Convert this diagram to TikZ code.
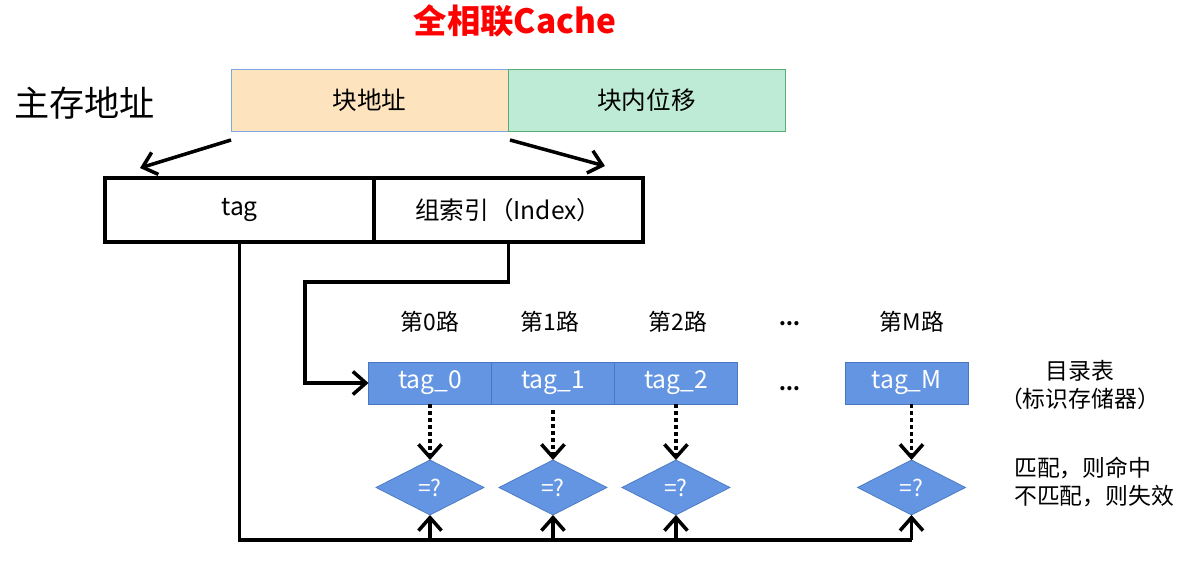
\documentclass[tikz,border=0pt]{standalone}
\usepackage{fontspec}
\setmainfont{Noto Sans CJK SC}
\usepackage{xcolor}
\usetikzlibrary{shapes,arrows,positioning,calc,arrows.meta}
\definecolor{blkfill}{HTML}{FDE3BE}
\definecolor{blkline}{HTML}{7EA6E0}
\definecolor{offfill}{HTML}{BDEBD5}
\definecolor{offline}{HTML}{5AAA78}
\definecolor{tagfill}{HTML}{6495E2}
\definecolor{tagline}{HTML}{4A78C0}
\tikzset{
    addr/.style={draw, minimum width=5.54cm, minimum height=1.24cm, outer sep=0pt, font=\fontsize{14}{16}\selectfont},
    field/.style={draw, line width=2.2pt, minimum width=5.38cm, minimum height=1.28cm, outer sep=0pt, font=\fontsize{14}{16}\selectfont},
    tagbox/.style={draw=tagline, fill=tagfill, text=white, minimum width=2.46cm, minimum height=0.84cm, outer sep=0pt, font=\fontsize{14}{16}\selectfont},
    cmp/.style={diamond, draw=tagline, fill=tagfill, text=white, minimum width=2.16cm, minimum height=1.1cm, inner sep=0pt, outer sep=0pt, font=\fontsize{13}{15}\selectfont},
    arr/.style={-{Straight Barb[length=2.6mm,width=4.6mm]}, line width=2pt},
    dotarr/.style={arr, dash pattern=on 2.2pt off 1.8pt},
    lbl/.style={font=\fontsize{13}{16}\selectfont}
}
\begin{document}
\begin{tikzpicture}[x=0.02cm, y=-0.02cm]
    \useasboundingbox (0,0) rectangle (1197,567);

    % Title
    \node[text=red, font=\fontsize{19}{22}\selectfont\bfseries] (title) at (515,21) {全相联Cache};

    % Main memory address
    \node[anchor=west, font=\fontsize{20}{24}\selectfont] (mem) at (8,103) {主存地址};
    \node[addr, draw=blkline, fill=blkfill] (blk) at (369.5,100) {块地址};
    \node[addr, draw=offline, fill=offfill, right=0pt of blk] (off) {块内位移};

    % Tag / index fields
    \node[field] (tagf) at (239.5,210) {tag};
    \node[field, right=0pt of tagf] (idxf) {组索引（Index）};

    \draw[arr] ($(blk.south west)+(0,9)$) -- ($(tagf.north west)+(35,-10)$);
    \draw[arr] ($(off.south west)+(2,9)$) -- ($(idxf.north west)+(231,-12)$);

    % Ways
    \node[lbl] (w0) at (430,322) {第0路};
    \node[lbl] (w1) at (550,322) {第1路};
    \node[lbl] (w2) at (678,322) {第2路};
    \node[font=\fontsize{11}{14}\selectfont\bfseries] (wd) at (790,324) {...};
    \node[lbl] (wM) at (912,322) {第M路};

    % Directory entries
    \node[tagbox] (t0) at (430,383) {tag\_0};
    \node[tagbox, right=0pt of t0] (t1) {tag\_1};
    \node[tagbox, right=0pt of t1] (t2) {tag\_2};
    \node[font=\fontsize{11}{14}\selectfont\bfseries] (td) at (790,389) {...};
    \node[tagbox] (tM) at (906.5,383) {tag\_M};

    % Comparators
    \node[cmp, below=1.12cm of t0] (d0) {=?};
    \node[cmp, below=1.12cm of t1] (d1) {=?};
    \node[cmp, below=1.12cm of t2] (d2) {=?};
    \node[cmp, below=1.12cm of tM, xshift=0.1cm] (dM) {=?};

    \draw[dotarr] (t0.south) -- (d0.north);
    \draw[dotarr] ($(t1.south)+(0,6)$) -- (d1.north);
    \draw[dotarr] (t2.south) -- (d2.north);
    \draw[dotarr] (dM.north |- tM.south) -- (dM.north);

    % Index path
    \coordinate (bend) at (305,282);
    \draw[arr] (idxf.south) |- (bend) |- (t0.west);

    % Tag bus
    \coordinate (busend) at (dM.south |- 0,540);
    \draw[line width=2pt] (tagf.south) |- (busend);
    \draw[arr] (d0.south |- busend) -- (d0.south);
    \draw[arr] (d1.south |- busend) -- (d1.south);
    \draw[arr] (d2.south |- busend) -- (d2.south);
    \draw[arr] (busend) -- (dM.south);

    % Notes
    \node[lbl, align=center] (dir) at (1080,385) {目录表\\（标识存储器）};
    \node[lbl, align=left, anchor=west] (res) at (1008,482) {匹配，则命中\\不匹配，则失效};
\end{tikzpicture}
\end{document}
